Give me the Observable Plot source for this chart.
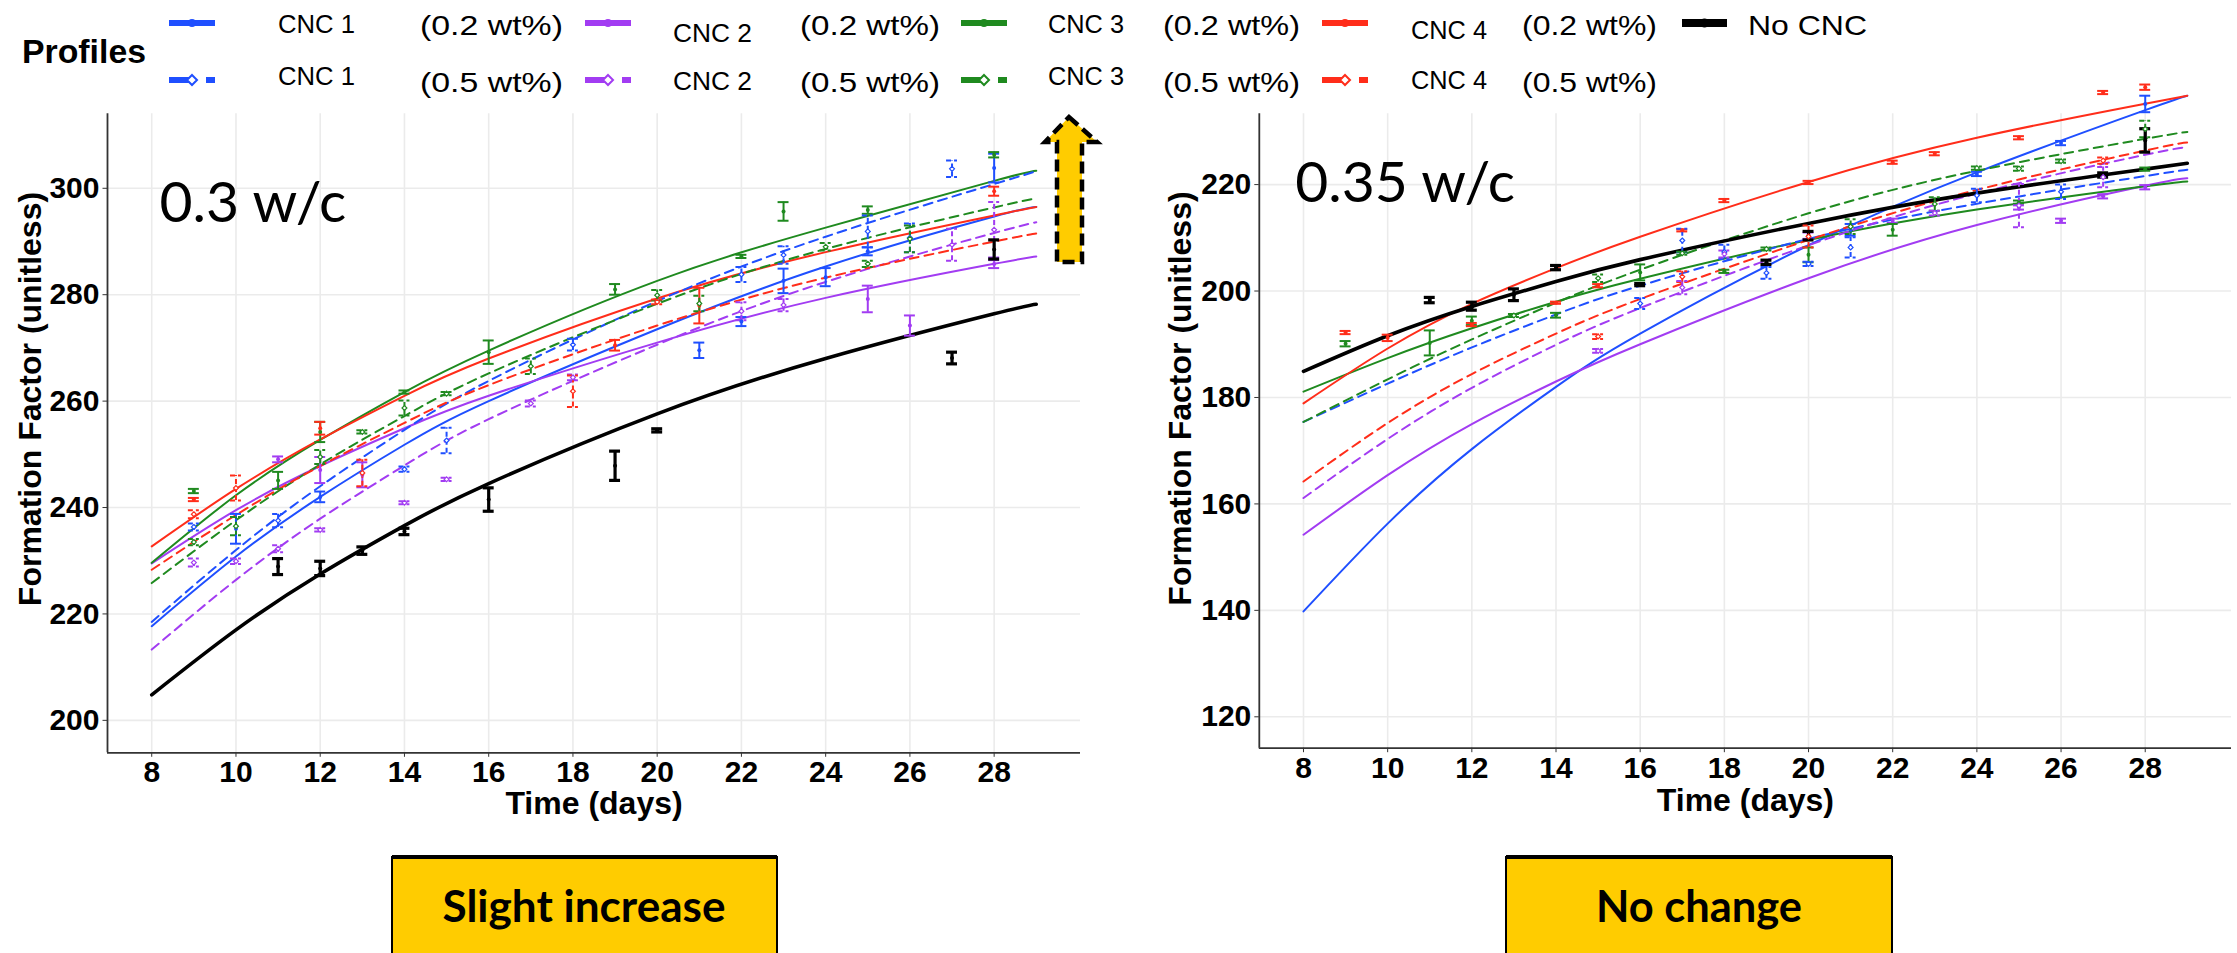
<!DOCTYPE html>
<html>
<head>
<meta charset="utf-8">
<script src="https://cdn.jsdelivr.net/npm/d3@7"></script>
<script src="https://cdn.jsdelivr.net/npm/@observablehq/plot@0.6"></script>
<style>
  html, body { margin: 0; padding: 0; background: #fff; }
  #root { position: relative; width: 2237px; height: 953px; overflow: hidden; background: #fff; }
  #left { position: absolute; left: 0; top: 100px; width: 1100px; height: 730px; }
  #right { position: absolute; left: 1150px; top: 100px; width: 1087px; height: 730px; }
  #overlay { position: absolute; left: 0; top: 0; }
</style>
</head>
<body>
<div id="root">
  <div id="left"></div>
  <div id="right"></div>
  <svg id="overlay" width="2237" height="953"></svg>
</div>
<script>
// ---------------- DATA ----------------
const seriesKeys = ["c1_02", "c1_05", "c2_02", "c2_05", "c3_02", "c3_05", "c4_02", "c4_05", "nocnc"];
const seriesLabels = ["CNC 1 (0.2 wt%)", "CNC 1 (0.5 wt%)", "CNC 2 (0.2 wt%)", "CNC 2 (0.5 wt%)",
                      "CNC 3 (0.2 wt%)", "CNC 3 (0.5 wt%)", "CNC 4 (0.2 wt%)", "CNC 4 (0.5 wt%)", "No CNC"];

// days at which the fitted profiles were read
const fitDays = [8, 10, 12, 14, 16, 20, 24, 28, 29];

// fitted profiles, 0.3 w/c (rows in seriesKeys order)
const fit03 = [
  [217.7, 230.8, 242.0, 251.8, 260.0, 273.5, 285.3, 294.7, 296.5],
  [218.5, 232.0, 244.0, 254.6, 263.8, 278.8, 290.9, 300.8, 303.2],
  [229.5, 239.5, 247.8, 254.9, 261.0, 271.0, 279.4, 285.8, 287.2],
  [213.3, 226.4, 237.9, 247.9, 256.6, 270.6, 282.4, 291.6, 293.6],
  [229.6, 242.3, 252.7, 261.7, 269.5, 282.6, 292.6, 301.4, 303.3],
  [225.8, 237.6, 248.1, 257.2, 265.2, 278.3, 288.6, 296.4, 298.1],
  [232.7, 243.5, 252.8, 261.0, 268.0, 279.3, 288.0, 294.9, 296.5],
  [228.3, 238.6, 247.8, 255.9, 263.0, 274.2, 283.2, 290.0, 291.5],
  [204.8, 217.0, 227.5, 236.6, 244.5, 257.6, 268.0, 276.4, 278.2]
];

// fitted profiles, 0.35 w/c
const fit035 = [
  [139.8, 156.3, 170.3, 182.0, 192.0, 208.6, 222.3, 234.0, 236.7],
  [175.4, 182.6, 189.4, 195.6, 201.0, 209.8, 216.4, 221.6, 222.8],
  [154.2, 165.4, 175.0, 183.0, 190.0, 202.4, 212.4, 219.8, 221.2],
  [161.1, 172.2, 181.8, 189.9, 196.8, 208.6, 218.3, 225.6, 227.0],
  [181.1, 187.4, 193.0, 198.0, 202.3, 209.6, 215.3, 219.7, 220.6],
  [175.4, 183.4, 190.9, 197.8, 204.0, 214.6, 222.6, 228.6, 229.9],
  [178.9, 189.2, 197.6, 204.3, 210.2, 220.5, 228.8, 235.2, 236.7],
  [164.2, 175.2, 184.4, 192.0, 198.5, 209.6, 219.0, 226.4, 227.9],
  [184.9, 191.6, 197.1, 201.8, 205.9, 212.7, 218.4, 222.9, 224.0]
];

// measurements: [series, day, low, high], 0.3 w/c
const bars03 = [
  ["c1_02", 10, 233.2, 238.8], ["c1_02", 12, 241.0, 243.0], ["c1_02", 21, 268.1, 271.0], ["c1_02", 22, 274.1, 275.8],
  ["c1_02", 23, 280.3, 284.9], ["c1_02", 24, 281.6, 285.0], ["c1_02", 25, 287.4, 288.9], ["c1_02", 28, 301.1, 306.5],
  ["c1_05", 9, 235.7, 237.0], ["c1_05", 11, 236.3, 238.8], ["c1_05", 14, 246.7, 247.7], ["c1_05", 15, 250.2, 255.0],
  ["c1_05", 18, 269.5, 271.7], ["c1_05", 22, 282.4, 285.2], ["c1_05", 23, 285.8, 289.1], ["c1_05", 25, 288.9, 294.9],
  ["c1_05", 26, 288.0, 293.4], ["c1_05", 27, 302.1, 305.2],
  ["c2_02", 11, 248.5, 249.6], ["c2_02", 12, 244.6, 249.5], ["c2_02", 13, 243.8, 248.5], ["c2_02", 25, 276.7, 281.7],
  ["c2_02", 26, 272.3, 276.1], ["c2_02", 28, 285.0, 286.5],
  ["c2_05", 9, 228.9, 230.4], ["c2_05", 10, 229.4, 230.4], ["c2_05", 11, 231.6, 232.9], ["c2_05", 12, 235.5, 236.1],
  ["c2_05", 14, 240.6, 241.2], ["c2_05", 15, 245.0, 245.6], ["c2_05", 17, 259.0, 260.1], ["c2_05", 18, 263.9, 265.0],
  ["c2_05", 22, 275.2, 278.6], ["c2_05", 23, 276.9, 279.2], ["c2_05", 27, 286.4, 292.4], ["c2_05", 28, 287.0, 297.4],
  ["c3_02", 9, 242.7, 243.5], ["c3_02", 11, 243.5, 246.7], ["c3_02", 12, 252.3, 256.1], ["c3_02", 14, 261.4, 262.0],
  ["c3_02", 16, 267.0, 271.4], ["c3_02", 19, 280.0, 282.0], ["c3_02", 22, 286.9, 287.5], ["c3_02", 23, 293.9, 297.4],
  ["c3_02", 25, 295.2, 296.6], ["c3_02", 28, 305.8, 306.8],
  ["c3_05", 9, 232.9, 234.1], ["c3_05", 10, 234.8, 238.2], ["c3_05", 12, 248.2, 250.8], ["c3_05", 13, 253.9, 254.5],
  ["c3_05", 14, 257.3, 260.1], ["c3_05", 15, 261.1, 261.7], ["c3_05", 17, 265.1, 268.0], ["c3_05", 20, 278.9, 280.9],
  ["c3_05", 21, 276.9, 279.8], ["c3_05", 24, 288.3, 289.7], ["c3_05", 25, 285.2, 286.4], ["c3_05", 26, 288.0, 293.0],
  ["c4_02", 9, 241.2, 241.8], ["c4_02", 12, 253.7, 256.1], ["c4_02", 19, 269.5, 271.5], ["c4_02", 21, 274.6, 281.3],
  ["c4_02", 28, 298.6, 300.3],
  ["c4_05", 9, 238.0, 239.5], ["c4_05", 10, 241.3, 246.0], ["c4_05", 13, 244.0, 249.0], ["c4_05", 18, 258.9, 264.8],
  ["c4_05", 20, 278.2, 279.1],
  ["nocnc", 11, 227.4, 230.4], ["nocnc", 12, 227.2, 229.9], ["nocnc", 13, 231.2, 232.6], ["nocnc", 14, 234.9, 236.1],
  ["nocnc", 16, 239.3, 243.7], ["nocnc", 19, 245.1, 250.6], ["nocnc", 20, 254.2, 254.8], ["nocnc", 27, 267.0, 269.2],
  ["nocnc", 28, 286.7, 290.3]
];

// measurements: [series, day, low, high], 0.35 w/c
const bars035 = [
  ["c1_02", 21, 210.4, 212.6], ["c1_02", 24, 221.6, 222.4], ["c1_02", 26, 227.4, 228.2], ["c1_02", 28, 233.6, 236.7],
  ["c1_05", 16, 196.6, 198.7], ["c1_05", 17, 207.3, 211.7], ["c1_05", 18, 206.0, 208.7], ["c1_05", 19, 202.3, 204.5],
  ["c1_05", 20, 204.7, 205.5], ["c1_05", 21, 206.3, 210.1], ["c1_05", 24, 216.7, 219.2], ["c1_05", 26, 217.3, 220.0],
  ["c2_02", 20, 209.8, 211.0], ["c2_02", 22, 212.8, 213.6], ["c2_02", 25, 215.3, 216.1], ["c2_02", 26, 212.8, 213.6],
  ["c2_02", 27, 217.4, 218.2], ["c2_02", 28, 219.1, 219.9],
  ["c2_05", 15, 188.4, 189.1], ["c2_05", 17, 199.4, 201.9], ["c2_05", 18, 206.3, 207.6], ["c2_05", 23, 214.2, 215.1],
  ["c2_05", 25, 212.0, 220.1], ["c2_05", 27, 219.5, 223.3],
  ["c3_02", 9, 189.6, 190.6], ["c3_02", 11, 187.9, 192.6], ["c3_02", 12, 193.6, 195.2], ["c3_02", 14, 195.0, 195.9],
  ["c3_02", 16, 202.0, 205.0], ["c3_02", 18, 203.4, 204.0], ["c3_02", 20, 205.4, 208.2], ["c3_02", 22, 210.4, 212.6],
  ["c3_02", 25, 216.4, 217.0], ["c3_02", 28, 222.6, 223.2],
  ["c3_05", 13, 195.1, 195.7], ["c3_05", 15, 201.7, 203.1], ["c3_05", 17, 206.8, 207.4], ["c3_05", 19, 207.6, 208.2],
  ["c3_05", 21, 210.7, 213.5], ["c3_05", 23, 215.1, 217.6], ["c3_05", 24, 222.8, 223.4], ["c3_05", 25, 222.6, 223.4],
  ["c3_05", 26, 224.1, 224.7], ["c3_05", 28, 228.9, 232.0],
  ["c4_02", 9, 191.9, 192.5], ["c4_02", 10, 190.6, 191.8], ["c4_02", 12, 193.4, 194.0], ["c4_02", 14, 197.6, 198.0],
  ["c4_02", 15, 200.7, 201.3], ["c4_02", 17, 211.2, 211.6], ["c4_02", 18, 216.7, 217.3], ["c4_02", 20, 220.1, 220.7],
  ["c4_02", 22, 223.9, 224.5], ["c4_02", 23, 225.5, 226.1], ["c4_02", 25, 228.5, 229.1], ["c4_02", 27, 237.0, 237.6],
  ["c4_02", 28, 237.8, 238.8],
  ["c4_05", 15, 191.0, 191.9], ["c4_05", 17, 201.7, 203.7], ["c4_05", 20, 208.2, 212.3], ["c4_05", 27, 223.9, 225.1],
  ["nocnc", 11, 197.8, 198.8], ["nocnc", 12, 196.4, 197.9], ["nocnc", 13, 198.2, 200.4], ["nocnc", 14, 204.0, 204.8],
  ["nocnc", 16, 201.0, 201.4], ["nocnc", 19, 205.0, 205.8], ["nocnc", 20, 209.6, 211.2], ["nocnc", 27, 221.4, 222.2],
  ["nocnc", 28, 226.1, 230.5]
];

const xTicks = [8, 10, 12, 14, 16, 18, 20, 22, 24, 26, 28];
const yTicks03 = [200, 220, 240, 260, 280, 300];
const yTicks035 = [120, 140, 160, 180, 200, 220];
const panelTags = ["0.3 w/c", "0.35 w/c"];
const verdicts = ["Slight increase", "No change"];

// ---------------- STYLE ----------------
const seriesColors = ["#1f4fff", "#1f4fff", "#a23cf2", "#a23cf2", "#1f8a1f", "#1f8a1f", "#ff2d1a", "#ff2d1a", "#000000"];
const AXIS_FONT = "'Liberation Sans', Arial, Helvetica, sans-serif";
const TAG_FONT = "Lato, 'Open Sans', sans-serif";

function fitRows(fit) {
  return fit.flatMap((vals, i) => vals.map((v, j) => ({key: seriesKeys[i], day: fitDays[j], value: v})));
}
function barRows(bars) {
  return bars.map(([key, day, low, high]) => ({key, day, low, high, mid: (low + high) / 2}));
}

function panel(o) {
  const F = fitRows(o.fit), B = barRows(o.bars);
  const dash = d => d.key.endsWith("_05");
  const blk = d => d.key === "nocnc";
  const solid = d => !dash(d) && !blk(d);
  const cap = 0.13;
  const bar = (data, extra) => [
    Plot.ruleX(data, {x: "day", y1: "low", y2: "high", stroke: "key", ...extra}),
    Plot.ruleY(data, {y: "low", x1: d => d.day - cap, x2: d => d.day + cap, stroke: "key", ...extra}),
    Plot.ruleY(data, {y: "high", x1: d => d.day - cap, x2: d => d.day + cap, stroke: "key", ...extra})
  ];
  const xDom = [6.95, 30.05];
  return Plot.plot({
    width: o.width, height: 730,
    marginLeft: o.marginLeft, marginRight: o.marginRight, marginTop: 13.3, marginBottom: o.marginBottom,
    style: {fontFamily: AXIS_FONT, fontSize: "30px", fontWeight: "bold", background: "transparent", color: "black", overflow: "visible"},
    x: {domain: xDom},
    y: {domain: o.yDomain},
    color: {domain: seriesKeys, range: seriesColors},
    marks: [
      Plot.gridX({ticks: xTicks, stroke: "#ebebeb", strokeOpacity: 1, strokeWidth: 1.6}),
      Plot.gridY({ticks: o.yTicks, stroke: "#ebebeb", strokeOpacity: 1, strokeWidth: 1.6}),
      Plot.axisX({ticks: xTicks, tickSize: 4.5, tickPadding: 3.5, label: null, fontSize: 30, fontWeight: "bold", stroke: "#333"}),
      Plot.axisY({ticks: o.yTicks, tickSize: 4.5, tickPadding: 3.5, label: null, fontSize: 30, fontWeight: "bold", stroke: "#333"}),
      Plot.ruleX([xDom[0]], {stroke: "#333", strokeWidth: 1.8}),
      Plot.ruleY([o.yDomain[0]], {stroke: "#333", strokeWidth: 1.8}),
      Plot.line(F.filter(solid), {x: "day", y: "value", z: "key", stroke: "key", strokeWidth: 2, curve: "natural"}),
      Plot.line(F.filter(dash), {x: "day", y: "value", z: "key", stroke: "key", strokeWidth: 2, strokeDasharray: "9,6", curve: "natural"}),
      Plot.line(F.filter(blk), {x: "day", y: "value", z: "key", stroke: "key", strokeWidth: 3.6, curve: "natural"}),
      ...bar(B.filter(solid), {strokeWidth: 2}),
      ...bar(B.filter(dash), {strokeWidth: 2, strokeDasharray: "5,3"}),
      ...bar(B.filter(blk), {strokeWidth: 3.2}),
      Plot.dot(B.filter(d => !dash(d)), {x: "day", y: "mid", r: 2, fill: "key"}),
      Plot.dot(B.filter(dash), {x: "day", y: "mid", r: 2.2, symbol: "diamond2", stroke: "key", strokeWidth: 1.2, fill: "white"}),
      Plot.text([o.tag], {frameAnchor: "top-left", dx: o.tagDx, dy: o.tagDy, lineAnchor: "bottom", textAnchor: "start",
        fontFamily: TAG_FONT, fontWeight: "normal", fontSize: 57, fill: "black"}),
      Plot.text(["Formation Factor (unitless)"], {frameAnchor: "left", rotate: -90, dx: o.yTitleDx, dy: o.yTitleDy,
        lineAnchor: "bottom", textAnchor: "middle", fontSize: 32, fontWeight: "bold", fill: "black"}),
      Plot.text(["Time (days)"], {frameAnchor: "bottom", dy: o.xTitleDy, lineAnchor: "bottom", textAnchor: "middle",
        fontSize: 32, fontWeight: "bold", fill: "black"})
    ]
  });
}

document.getElementById("left").appendChild(panel({
  fit: fit03, bars: bars03, yDomain: [193.9, 314], yTicks: yTicks03,
  width: 1100, marginLeft: 107, marginRight: 20, marginBottom: 77.7,
  tag: panelTags[0], tagDx: 52, tagDy: 108.4, yTitleDx: -66.3, yTitleDy: -34.3, xTitleDy: 60.7
}));
document.getElementById("right").appendChild(panel({
  fit: fit035, bars: bars035, yDomain: [114.1, 233.3], yTicks: yTicks035,
  width: 1087, marginLeft: 108.8, marginRight: 6, marginBottom: 82.3,
  tag: panelTags[1], tagDx: 36, tagDy: 88.4, yTitleDx: -68.8, yTitleDy: -32.5, xTitleDy: 62.3
}));

// ---------------- LEGEND, ARROW, VERDICT BOXES ----------------
const svg = d3.select("#overlay");
const legFont = "'Liberation Sans', Arial, sans-serif";
svg.append("text").attr("x", 22).attr("y", 63).attr("font-family", legFont).attr("font-weight", "bold")
  .attr("font-size", 33).attr("textLength", 124).attr("lengthAdjust", "spacingAndGlyphs").text("Profiles");

const keyX = [169, 585, 961, 1322];
const keyColor = ["#1f4fff", "#a23cf2", "#1f8a1f", "#ff2d1a"];
keyX.forEach((x, i) => {
  // solid key (0.2 wt%)
  svg.append("line").attr("x1", x).attr("x2", x + 46).attr("y1", 23).attr("y2", 23)
    .attr("stroke", keyColor[i]).attr("stroke-width", 6);
  svg.append("circle").attr("cx", x + 23).attr("cy", 23).attr("r", 4).attr("fill", keyColor[i]);
  // dashed key (0.5 wt%)
  svg.append("line").attr("x1", x).attr("x2", x + 24).attr("y1", 80).attr("y2", 80)
    .attr("stroke", keyColor[i]).attr("stroke-width", 6);
  svg.append("line").attr("x1", x + 37).attr("x2", x + 46).attr("y1", 80).attr("y2", 80)
    .attr("stroke", keyColor[i]).attr("stroke-width", 6);
  svg.append("path").attr("d", `M${x + 23},${75} L${x + 28},${80} L${x + 23},${85} L${x + 18},${80} Z`)
    .attr("fill", "white").attr("stroke", keyColor[i]).attr("stroke-width", 2);
});
svg.append("line").attr("x1", 1682).attr("x2", 1727).attr("y1", 23).attr("y2", 23).attr("stroke", "black").attr("stroke-width", 8);
svg.append("circle").attr("cx", 1704.5).attr("cy", 23).attr("r", 4.5).attr("fill", "black");

const legTexts = [
  ["CNC 1", 278, 33.3, 77, 26], ["(0.2 wt%)", 420, 35, 143, 28], ["CNC 2", 673, 41.7, 79, 26], ["(0.2 wt%)", 800, 35, 140, 28],
  ["CNC 3", 1048, 33.3, 76, 26], ["(0.2 wt%)", 1163, 35, 137, 28], ["CNC 4", 1411, 39.3, 76, 26], ["(0.2 wt%)", 1522, 35, 135, 28],
  ["No CNC", 1748, 35, 119, 28],
  ["CNC 1", 278, 85, 77, 26], ["(0.5 wt%)", 420, 91.7, 143, 28], ["CNC 2", 673, 90, 79, 26], ["(0.5 wt%)", 800, 91.7, 140, 28],
  ["CNC 3", 1048, 85, 76, 26], ["(0.5 wt%)", 1163, 91.7, 137, 28], ["CNC 4", 1411, 89.3, 76, 26], ["(0.5 wt%)", 1522, 91.7, 135, 28]
];
legTexts.forEach(([t, x, y, w, fs]) => {
  svg.append("text").attr("x", x).attr("y", y).attr("font-family", legFont).attr("font-size", fs)
    .attr("textLength", w).attr("lengthAdjust", "spacingAndGlyphs").attr("fill", "black").text(t);
});

// dashed yellow arrow
svg.append("path").attr("d", "M1069,117 L1097,142 L1082,142 L1082,262 L1057,262 L1057,142 L1045,142 Z")
  .attr("fill", "#ffcc00").attr("stroke", "black").attr("stroke-width", 4.5).attr("stroke-dasharray", "12,6");

// verdict boxes
[[392, 385, 584, 283], [1506, 386, 1699, 206]].forEach(([x, w, cx, tl], i) => {
  svg.append("rect").attr("x", x).attr("y", 857).attr("width", w).attr("height", 120)
    .attr("fill", "#ffcc00").attr("stroke", "black").attr("stroke-width", 2);
  svg.append("line").attr("x1", x).attr("x2", x + w).attr("y1", 857).attr("y2", 857).attr("stroke", "black").attr("stroke-width", 4);
  svg.append("text").attr("x", cx).attr("y", 921.7).attr("text-anchor", "middle").attr("font-family", TAG_FONT)
    .attr("font-weight", "bold").attr("font-size", 44).attr("textLength", tl).attr("lengthAdjust", "spacingAndGlyphs")
    .text(verdicts[i]);
});
</script>
</body>
</html>
